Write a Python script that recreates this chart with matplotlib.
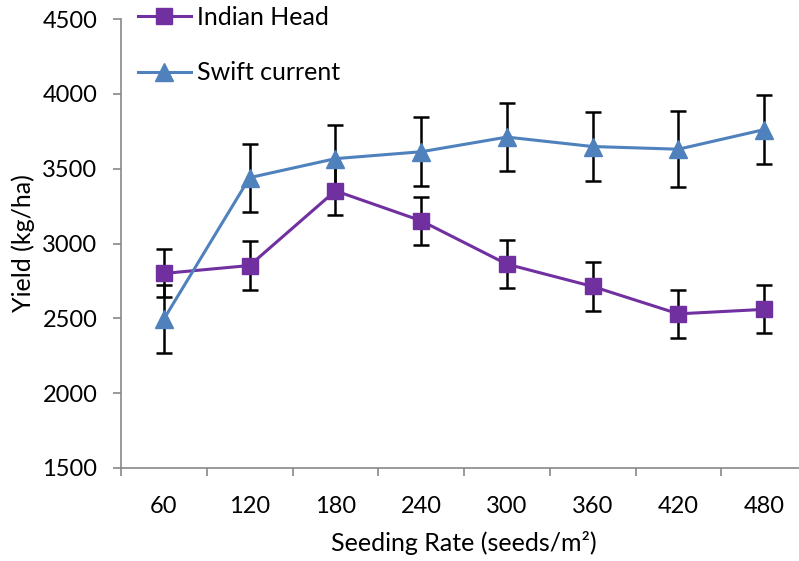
import matplotlib.pyplot as plt
import numpy as np

plt.rcParams['font.family'] = ['Lato', 'DejaVu Sans']

# Datos
rates = ['60', '120', '180', '240', '300', '360', '420', '480']
indian_head = [2800, 2853, 3352, 3152, 2862, 2713, 2530, 2560]
indian_err = [160, 162, 160, 160, 162, 162, 162, 160]
swift_current = [2495, 3440, 3567, 3613, 3711, 3648, 3630, 3761]
swift_err = [228, 228, 228, 230, 228, 230, 255, 230]

fig = plt.figure(figsize=(7.99, 5.61), dpi=100)
ax = fig.add_axes([121 / 799, 1 - 468 / 561, 686 / 799, 449 / 561])

x = np.arange(len(rates))

ax.errorbar(x, indian_head, yerr=indian_err, color='#7030A0', marker='s',
            markersize=12, linewidth=2.2, ecolor='black', elinewidth=1.8,
            capsize=6, capthick=1.8, label='Indian Head', zorder=3)
ax.errorbar(x, swift_current, yerr=swift_err, color='#4F81BD', marker='^',
            markersize=13, linewidth=2.2, ecolor='black', elinewidth=1.8,
            capsize=6, capthick=1.8, label='Swift current', zorder=3)

ax.set_xlim(-0.5, len(rates) - 0.5)
ax.set_ylim(1500, 4500)
ax.set_yticks(np.arange(1500, 4501, 500))
ax.set_xticks(x)
ax.set_xticklabels(rates)
ax.set_xticks(np.arange(-0.5, len(rates), 1), minor=True)

ax.tick_params(axis='x', which='major', length=0, pad=20, labelsize=17)
ax.tick_params(axis='x', which='minor', length=6, color='#888888', width=1.2)
ax.tick_params(axis='y', length=6, color='#888888', width=1.2, labelsize=17,
               pad=11)

for side in ['top', 'right']:
    ax.spines[side].set_visible(False)
for side in ['left', 'bottom']:
    ax.spines[side].set_color('#888888')
    ax.spines[side].set_linewidth(1.2)

ax.set_xlabel('Seeding Rate (seeds/m²)', fontsize=18, labelpad=10)
ax.set_ylabel('Yield (kg/ha)', fontsize=18, labelpad=5)

handles, labels = ax.get_legend_handles_labels()
handles = [h[0] for h in handles]
fig.legend(handles, labels, loc='upper left',
           bbox_to_anchor=(138 / 799, 1 - 6 / 561), borderpad=0,
           borderaxespad=0, frameon=False, fontsize=18, handlelength=2.1,
           labelspacing=1.3, handletextpad=0.25)

fig.savefig('out.png', dpi=100)
